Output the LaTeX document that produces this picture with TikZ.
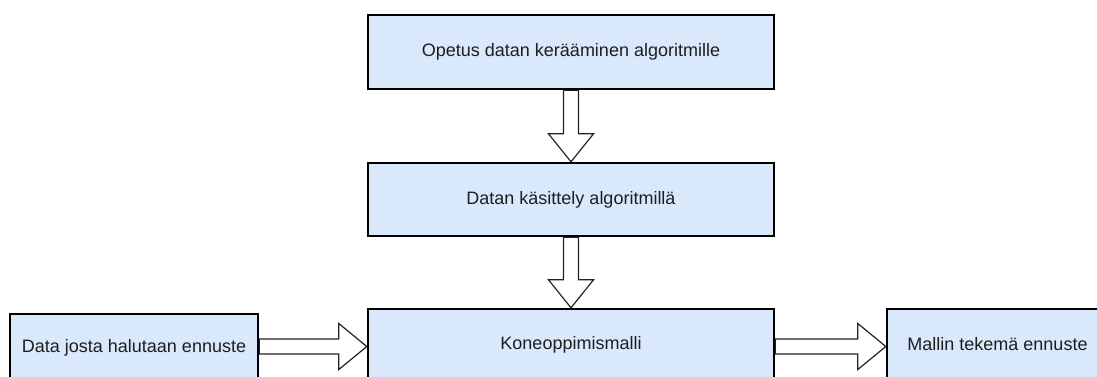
\documentclass[tikz,border=0pt]{standalone}
\usepackage{fontspec}
\setmainfont{Liberation Sans}
\usetikzlibrary{calc,backgrounds}
\definecolor{boxfill}{HTML}{DAE8FC}
\definecolor{txt}{HTML}{1E1E1E}
\definecolor{arrline}{HTML}{222222}
\newcommand\downarrowblock[2]{%
 \draw[blockarr] let \p1=(#1.south), \p2=(#2.north) in
 (\x1-7.5pt,\y1) -- (\x1-7.5pt,\y2+28pt) -- (\x1-22.5pt,\y2+28pt) -- (\x1,\y2)
 -- (\x1+22.5pt,\y2+28pt) -- (\x1+7.5pt,\y2+28pt) -- (\x1+7.5pt,\y1) -- cycle;}
\newcommand\rightarrowblock[3]{%
 \draw[blockarr] let \p1=(#1.east |- #3), \p2=(#2.west |- #3) in
 (\x1,\y1+7.5pt) -- (\x2-28pt,\y1+7.5pt) -- (\x2-28pt,\y1+23pt) -- (\x2,\y1)
 -- (\x2-28pt,\y1-23pt) -- (\x2-28pt,\y1-7.5pt) -- (\x1,\y1-7.5pt) -- cycle;}
\begin{document}
\begin{tikzpicture}[x=1pt,y=-1pt,
  box/.style={draw=black, line width=2.4pt, fill=boxfill, inner sep=0pt, text=txt,
    font=\fontsize{18}{22}\selectfont},
  blockarr/.style={draw=arrline, line width=1.2pt, fill=white, line join=miter}]
\useasboundingbox (0,0) rectangle (1097,376);
\clip (0,0) rectangle (1097,376);
\node[box, minimum width=406pt, minimum height=74pt] (collect) at (571,52) {Opetus datan kerääminen algoritmille};
\node[box, minimum width=406pt, minimum height=73pt] (process) at (571,199.5) {Datan käsittely algoritmillä};
\node[box, minimum width=406pt, minimum height=72pt] (model) at (571,345) {Koneoppimismalli};
\node[box, minimum width=248pt, minimum height=68pt] (query) at (134,348) {Data josta halutaan ennuste};
\node[box, minimum width=221pt, minimum height=70pt] (forecast) at (997.5,344) {Mallin tekemä ennuste};
\coordinate (lvl) at (0,346.5);
\begin{scope}[on background layer]
\downarrowblock{collect}{process}
\downarrowblock{process}{model}
\rightarrowblock{query}{model}{lvl}
\rightarrowblock{model}{forecast}{lvl}
\end{scope}
\end{tikzpicture}
\end{document}
